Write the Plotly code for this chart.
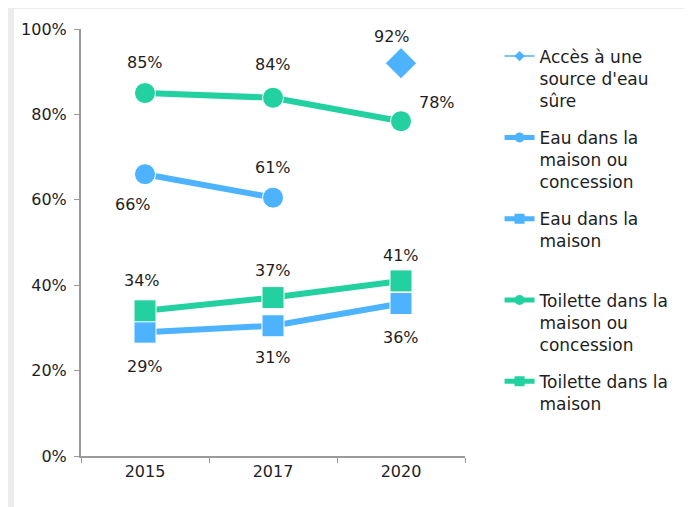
import plotly.graph_objects as go

years = ["2015", "2017", "2020"]

acces_eau_sure = [None, None, 92.0]
eau_concession = [66.0, 60.5, None]
eau_maison = [29.0, 30.5, 35.7]
toilette_concession = [85.0, 83.9, 78.4]
toilette_maison = [34.0, 37.1, 41.0]

tick_vals = [0, 20, 40, 60, 80, 100]
tick_text = [f"{v}%" for v in tick_vals]

GREEN = "#22D19F"
BLUE = "#4DB3FF"
TEXT = "#1E1E1E"
AXIS = "#9A9A9A"
FONT = "DejaVu Sans, sans-serif"

# (name, values, color, symbol, marker size, line width, label offsets in px)
series = [
    ("Accès à une<br>source d'eau<br>sûre", acces_eau_sure, BLUE, "diamond", 24, 1.5,
     [(0, 0), (0, 0), (-9, 27)]),
    ("Eau dans la<br>maison ou<br>concession", eau_concession, BLUE, "circle", 21, 6,
     [(-12, -30), (0, 30), (0, 0)]),
    ("Eau dans la<br>maison<br> ", eau_maison, BLUE, "square", 22, 6,
     [(0, -34), (0, -32), (0, -34)]),
    ("Toilette dans la<br>maison ou<br>concession", toilette_concession, GREEN, "circle", 21, 6,
     [(0, 31), (0, 33), (36, 19)]),
    ("Toilette dans la<br>maison", toilette_maison, GREEN, "square", 22, 6,
     [(-3, 30), (0, 27), (0, 25)]),
]

fig = go.Figure()

for k, (name, vals, color, symbol, msize, lw, offs) in enumerate(series):
    fig.add_trace(go.Scatter(
        x=years, y=vals, mode="lines+markers", showlegend=False,
        line=dict(color=color, width=lw),
        marker=dict(symbol=symbol, size=msize, color=color,
                    line=dict(color="white", width=1)),
        hoverinfo="skip",
    ))
    # legend-only entry, small markers like the original legend
    fig.add_trace(go.Scatter(
        x=[None], y=[None], mode="lines+markers", name=name,
        legendgroup=f"g{k}",
        line=dict(color=color, width=min(lw, 5)),
        marker=dict(symbol=symbol, size=10 if lw > 2 else 8, color=color),
    ))
    for i, v in enumerate(vals):
        if v is None:
            continue
        dx, dy = offs[i]
        # category index as x: numeric-looking strings confuse annotations
        fig.add_annotation(
            x=i, y=v, text=f"{int(v + 0.5)}%", showarrow=False,
            xshift=dx, yshift=dy, font=dict(size=16, color=TEXT, family=FONT),
        )

# white card on grey page
fig.add_shape(type="rect", xref="paper", yref="paper",
              x0=-0.1745, x1=1.5807, y0=-0.16, y1=1.0466,
              fillcolor="white", line=dict(width=0), layer="below")

fig.update_layout(
    width=684, height=499,
    margin=dict(l=73, r=227, t=19, b=51),
    paper_bgcolor="#ECECEC",
    plot_bgcolor="rgba(0,0,0,0)",
    font=dict(family=FONT, size=16, color=TEXT),
    legend=dict(
        x=1.09, xanchor="left", y=0.9776, yanchor="top",
        font=dict(size=17, family=FONT, color=TEXT),
        valign="top", bgcolor="rgba(0,0,0,0)", tracegroupgap=12,
    ),
    xaxis=dict(
        type="category", range=[-0.5, 2.5],
        showline=True, linecolor=AXIS, linewidth=2,
        ticks="outside", tickson="boundaries", ticklen=5, tickcolor=AXIS,
        showgrid=False, zeroline=False,
        tickfont=dict(size=16, color=TEXT),
    ),
    yaxis=dict(
        range=[0, 100], tickmode="array", tickvals=tick_vals, ticktext=tick_text,
        showline=True, linecolor=AXIS, linewidth=2,
        ticks="outside", ticklen=5, tickcolor=AXIS,
        showgrid=False, zeroline=False,
        ticklabelstandoff=4,
        tickfont=dict(size=16, color=TEXT),
    ),
)

fig.write_html("out.html")
